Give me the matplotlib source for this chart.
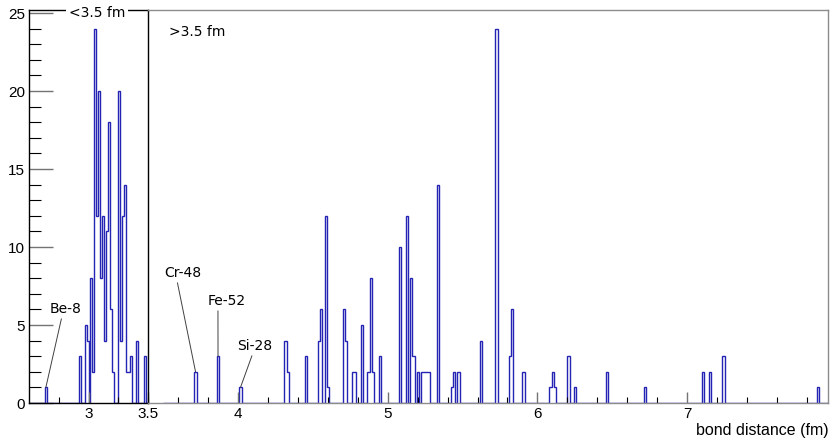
#!/usr/bin/env python

"""Bond distance histogram, split in a <3.5 fm pad and a >3.5 fm pad.
"""

import matplotlib
matplotlib.use('Agg')
import matplotlib.pyplot as plt
from matplotlib.ticker import MultipleLocator, FixedLocator
import numpy as np

# <3.5 fm histogram: bin centres (fm) and counts, 60 bins over 2.5-3.5
short_pos = [2.6417, 2.925, 2.975, 2.9917, 3.025, 3.0417, 3.0583, 3.075,
             3.0917, 3.1083, 3.125, 3.1417, 3.1583, 3.175, 3.1917, 3.2083,
             3.2583, 3.275, 3.2917, 3.3083, 3.325, 3.3417, 3.3583, 3.4083,
             3.475]
short_counts = [1, 3, 5, 4, 8, 2, 24, 12, 20, 8, 12, 4, 11, 18, 6, 2,
                20, 4, 12, 14, 2, 2, 3, 4, 3]

# >3.5 fm histogram: bin centres (fm) and counts, 300 bins over 3.5-8.0
long_pos = [3.7175, 3.8675, 4.0175, 4.3175, 4.3325, 4.4525, 4.5425, 4.5575,
            4.5875, 4.6025, 4.7075, 4.7225, 4.7725, 4.7875, 4.8275, 4.8725,
            4.8875, 4.9025, 4.9475, 5.0825, 5.1275, 5.1575, 5.1725, 5.2025,
            5.2325, 5.2475, 5.2625, 5.2775, 5.3375, 5.4275, 5.4425, 5.4725,
            5.6225, 5.7275, 5.8175, 5.8325, 5.9075, 6.0875, 6.1025, 6.1175,
            6.2075, 6.2525, 6.4625, 6.7175, 7.1075, 7.1525, 7.2425, 7.8725]
long_counts = [2, 3, 1, 4, 2, 3, 4, 6,
               12, 1, 6, 4, 2, 2, 5, 2,
               8, 2, 3, 10, 12, 8, 3, 2,
               2, 2, 2, 2, 14, 1, 2, 2,
               4, 24, 3, 6, 2, 1, 2, 1,
               3, 1, 2, 1, 2, 2, 3, 1]

# labelled peaks: (name, bin centre, text x, text baseline y, line start)
short_labels = [('Be-8', 2.6417, 2.807, 5.77, 0.39)]
long_labels = [('Cr-48', 3.7175, 3.630, 8.08, 0.35),
               ('Fe-52', 3.8675, 3.923, 6.28, 0.28),
               ('Si-28', 4.0175, 4.110, 3.40, 0.46)]

HIST_COLOR = '#2323b4'
W, H = 830.0, 440.0


def style_axis(ax, spine_color):
    for side in ['top', 'right', 'bottom', 'left']:
        ax.spines[side].set_color(spine_color)
        ax.spines[side].set_linewidth(1.0)
    ax.tick_params(which='both', direction='in', top=False, right=False)
    ax.tick_params(which='major', labelsize=11, pad=3, color='0.45',
                   width=1.0)
    ax.tick_params(which='minor', color='black', width=0.8)


def label_peaks(ax, pos, counts, labels):
    for name, centre, tx, ty, rel in labels:
        i = int(np.argmin(np.abs(np.array(pos) - centre)))
        ax.annotate(name, xy=(pos[i], counts[i]), xytext=(tx, ty),
                    textcoords='data', ha='center', va='baseline',
                    fontsize=10, family='DejaVu Sans', color='black',
                    arrowprops=dict(arrowstyle='-', color='0.25', lw=0.7,
                                    shrinkA=0, shrinkB=0,
                                    relpos=(rel, 0.0)))


def main():
    plt.rcParams['font.family'] = ['Liberation Sans', 'DejaVu Sans']
    fig = plt.figure(figsize=(W / 100, H / 100), dpi=100)

    ax_l = fig.add_axes([29 / W, 37 / H, 119 / W, 393 / H])
    ax_r = fig.add_axes([148 / W, 37 / H, 680 / W, 393 / H])
    ax_r.patch.set_visible(False)

    # short distances
    edges_s = 2.5 + np.arange(61) / 60.0
    hist_s, _ = np.histogram(short_pos, bins=edges_s, weights=short_counts)
    ax_l.stairs(hist_s, edges_s, color=HIST_COLOR, lw=1.0)
    ax_l.set_xlim(2.5, 3.5)
    ax_l.set_ylim(0, 25.2)
    style_axis(ax_l, 'black')
    ax_l.xaxis.set_major_locator(FixedLocator([3.0, 3.5]))
    ax_l.xaxis.set_minor_locator(FixedLocator([2.75, 3.25]))
    ax_l.set_xticklabels(['3', '3.5'])
    ax_l.yaxis.set_major_locator(MultipleLocator(5))
    ax_l.yaxis.set_minor_locator(MultipleLocator(1))
    ax_l.tick_params(axis='x', which='major', length=8)
    ax_l.tick_params(axis='x', which='minor', length=4.3)
    ax_l.tick_params(axis='y', which='major', length=17)
    ax_l.tick_params(axis='y', which='minor', length=8.5)
    ax_l.text(0.571, 0.993, '<3.5 fm', transform=ax_l.transAxes,
              ha='center', va='center', fontsize=10, family='DejaVu Sans',
              bbox=dict(facecolor='white', edgecolor='none', pad=2.0),
              zorder=5, clip_on=False)
    label_peaks(ax_l, short_pos, short_counts, short_labels)

    # long distances
    edges_l = 3.5 + np.arange(301) * 0.015
    hist_l, _ = np.histogram(long_pos, bins=edges_l, weights=long_counts)
    ax_r.stairs(hist_l, edges_l, color=HIST_COLOR, lw=1.0)
    ax_r.set_xlim(3.4, 7.94)
    ax_r.set_ylim(0, 25.2)
    style_axis(ax_r, '0.55')
    ax_r.spines['left'].set_visible(False)
    ax_r.xaxis.set_major_locator(MultipleLocator(1))
    ax_r.xaxis.set_minor_locator(MultipleLocator(0.2))
    ax_r.tick_params(axis='x', which='major', length=8)
    ax_r.tick_params(axis='x', which='minor', length=4.3)
    ax_r.tick_params(axis='y', which='both', left=False, labelleft=False)
    ax_r.text(0.0728, 0.944, '>3.5 fm', transform=ax_r.transAxes,
              ha='center', va='center', fontsize=10, family='DejaVu Sans')
    label_peaks(ax_r, long_pos, long_counts, long_labels)

    fig.text(0.998, 1 - 430 / H, 'bond distance (fm)', ha='right',
             va='center', fontsize=11.5)

    fig.savefig('out.png', dpi=100)


if __name__ == '__main__':
    main()
